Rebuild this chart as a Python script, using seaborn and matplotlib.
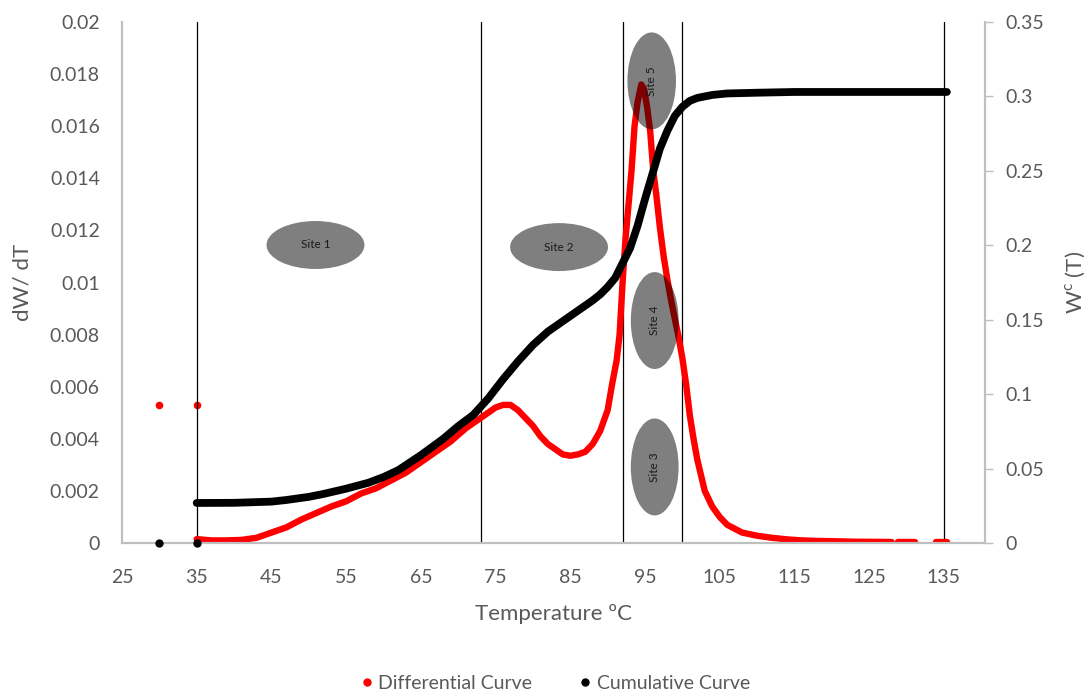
import numpy as np
import pandas as pd
import matplotlib
matplotlib.use("Agg")
import matplotlib.pyplot as plt
from matplotlib.patches import Ellipse
from matplotlib.lines import Line2D
from matplotlib.ticker import FuncFormatter, MultipleLocator, FixedLocator
import seaborn as sns

# ---- data -------------------------------------------------------------
# differential curve dW/dT (left axis)
diff_temp = [35, 37, 39, 41, 43, 45, 47, 49, 51, 53, 55, 57, 59, 61, 63, 65,
             67, 69, 71, 73, 74, 75, 76, 77, 78, 79, 80, 81, 82, 83, 84, 85,
             86, 87, 88, 89, 90, 90.6, 91.2, 91.6, 92.0, 92.4, 92.8, 93.2,
             93.6, 94.0, 94.5, 94.9, 95.3, 95.7, 96.1, 96.5, 97.0, 97.5, 98.0,
             98.5, 99.0, 99.5, 100.0, 100.5, 101.0, 101.5, 102.0, 102.5, 103,
             104, 105, 106, 107, 108, 110, 112, 114, 116, 118, 120, 123, 128]
diff_vals = [0.00015, 0.0001, 0.0001, 0.00012, 0.0002, 0.0004, 0.0006, 0.0009,
             0.00115, 0.0014, 0.0016, 0.0019, 0.0021, 0.0024, 0.0027, 0.0031,
             0.0035, 0.0039, 0.0044, 0.0048, 0.0050, 0.0052, 0.0053, 0.0053,
             0.0051, 0.0048, 0.0045, 0.0041, 0.0038, 0.0036, 0.0034, 0.00335,
             0.0034, 0.0035, 0.0038, 0.0043, 0.0051, 0.0061, 0.0070, 0.0080,
             0.0100, 0.0117, 0.0130, 0.0143, 0.0160, 0.0169, 0.0176, 0.0174,
             0.0167, 0.0158, 0.0143, 0.0134, 0.0121, 0.0110, 0.0101, 0.0093,
             0.0086, 0.0079, 0.0071, 0.0061, 0.0049, 0.0040, 0.0032, 0.0026,
             0.0020, 0.0014, 0.0010, 0.0007, 0.00055, 0.0004, 0.00028, 0.0002,
             0.00014, 0.0001, 0.00008, 0.00007, 0.00005, 0.00004]
diff_tail1_temp = [128.8, 129.4, 130.0, 130.6, 131.2]
diff_tail1_vals = [0.00004, 0.00004, 0.00004, 0.00004, 0.00004]
diff_tail2_temp = [133.9, 134.4, 134.9, 135.4]
diff_tail2_vals = [0.00004, 0.00004, 0.00004, 0.00004]
diff_extra_temp = [30, 35]
diff_extra_vals = [0.0053, 0.0053]

# cumulative curve W^c(T) (right axis)
cum_temp = [35, 40, 45, 47, 50, 52, 55, 58, 60, 62, 65, 68, 70, 72, 74, 76,
            78, 80, 82, 84, 86, 88, 89, 90, 91, 92, 93, 94, 95, 96, 97, 98,
            99, 100, 101, 102, 104, 106, 110, 115, 120, 125, 130, 135.4]
cum_vals = [0.0269, 0.027, 0.0278, 0.0289, 0.031, 0.033, 0.0365, 0.0405, 0.0443,
            0.049, 0.059, 0.070, 0.0785, 0.086, 0.097, 0.110, 0.122, 0.133,
            0.142, 0.149, 0.156, 0.163, 0.167, 0.172, 0.178, 0.188, 0.198,
            0.213, 0.231, 0.248, 0.265, 0.277, 0.287, 0.293, 0.297, 0.299,
            0.301, 0.302, 0.3025, 0.303, 0.303, 0.303, 0.303, 0.303]
cum_extra_temp = [30, 35]
cum_extra_vals = [0.0, 0.0]

x_ticks = [25, 35, 45, 55, 65, 75, 85, 95, 105, 115, 125, 135]

# region boundaries and site annotations
boundaries = [35, 73, 92, 100, 135]
site_labels = ["Site 1", "Site 2", "Site 3", "Site 4", "Site 5"]
site_x = [50.9, 83.5, 96.3, 96.3, 95.9]
site_y = [0.01144, 0.01136, 0.00292, 0.00854, 0.01774]
site_w = [13.1, 13.1, 6.4, 6.4, 6.5]
site_h = [0.00184, 0.00184, 0.00372, 0.00372, 0.00372]
site_rot = [0, 0, 90, 90, 90]

# ---- styling ----------------------------------------------------------
sns.set_theme(style="white")
plt.rcParams["font.family"] = ["Lato", "DejaVu Sans"]
GREY_TEXT = "#595959"
GREY_AXIS = "#BFBFBF"

diff_df = pd.DataFrame({
    "T": diff_temp + diff_tail1_temp + diff_tail2_temp,
    "v": diff_vals + diff_tail1_vals + diff_tail2_vals,
    "seg": ["a"] * len(diff_temp) + ["b"] * len(diff_tail1_temp)
           + ["c"] * len(diff_tail2_temp),
})
cum_df = pd.DataFrame({"T": cum_temp, "v": cum_vals})

fig = plt.figure(figsize=(10.91, 6.92), dpi=100)
ax = fig.add_axes([0.1118, 0.2153, 0.7910, 0.7529])
ax2 = ax.twinx()

# differential curve
sns.lineplot(data=diff_df, x="T", y="v", units="seg", estimator=None,
             color="#FF0000", linewidth=4.6, solid_capstyle="round",
             sort=False, ax=ax, legend=False)
sns.scatterplot(x=diff_extra_temp, y=diff_extra_vals, color="#FF0000",
                s=30, linewidth=0, ax=ax, legend=False)

# cumulative curve
sns.lineplot(data=cum_df, x="T", y="v", color="black", linewidth=5.6,
             solid_capstyle="round", ax=ax2, legend=False)
sns.scatterplot(x=cum_extra_temp, y=cum_extra_vals, color="black", s=36,
                linewidth=0, ax=ax2, legend=False, clip_on=False, zorder=5)

# region boundaries
for b in boundaries:
    ax.axvline(b, ymin=0, ymax=1, color="black", linewidth=0.9, zorder=1)

# site markers: translucent dark ovals over the curves
for lab, cx, cy, w, h, r in zip(site_labels, site_x, site_y, site_w, site_h, site_rot):
    ax2.add_patch(Ellipse((cx, cy), w, h, transform=ax.transData,
                          facecolor="black", edgecolor="none", alpha=0.5,
                          zorder=6))
    ax2.text(cx, cy, lab, transform=ax.transData, rotation=r,
             ha="center", va="center", fontsize=8.5, color="#1a1a1a",
             zorder=7)

# axes limits and ticks
ax.set_xlim(25, 140.5)
ax.set_ylim(0, 0.02)
ax2.set_ylim(0, 0.35)
ax.xaxis.set_major_locator(FixedLocator(x_ticks))
ax.yaxis.set_major_locator(MultipleLocator(0.002))
ax2.yaxis.set_major_locator(MultipleLocator(0.05))
fmt = FuncFormatter(lambda v, p: f"{v:.4g}" if abs(v) > 1e-12 else "0")
ax.yaxis.set_major_formatter(fmt)
ax2.yaxis.set_major_formatter(fmt)

ax.tick_params(axis="x", length=0, pad=19, labelsize=14, labelcolor=GREY_TEXT)
ax.tick_params(axis="y", length=0, pad=16, labelsize=14, labelcolor=GREY_TEXT)
ax2.tick_params(axis="y", length=6, width=1, color=GREY_AXIS, pad=9,
                labelsize=14, labelcolor=GREY_TEXT, right=True)

for a in (ax, ax2):
    a.spines["top"].set_visible(False)
    for s in ("left", "right", "bottom"):
        a.spines[s].set_color(GREY_AXIS)
        a.spines[s].set_linewidth(1.5)
ax.grid(False)
ax2.grid(False)

ax.set_xlabel("Temperature ºC", fontsize=16, color=GREY_TEXT, labelpad=13)
ax.set_ylabel("dW/ dT", fontsize=16, color=GREY_TEXT, labelpad=12)
ax2.set_ylabel("W$^{\\mathregular{c}}$ (T)", fontsize=16, color=GREY_TEXT,
               labelpad=14)

handles = [
    Line2D([], [], marker="o", linestyle="", color="#FF0000", markersize=5),
    Line2D([], [], marker="o", linestyle="", color="black", markersize=5),
]
leg = ax.legend(handles, ["Differential Curve", "Cumulative Curve"],
                loc="center", bbox_to_anchor=(0.5, -0.269), ncol=2,
                frameon=False, fontsize=14, handletextpad=0.1,
                columnspacing=2.2, handlelength=1.0)
for t in leg.get_texts():
    t.set_color(GREY_TEXT)

fig.savefig("out.png", dpi=100)
